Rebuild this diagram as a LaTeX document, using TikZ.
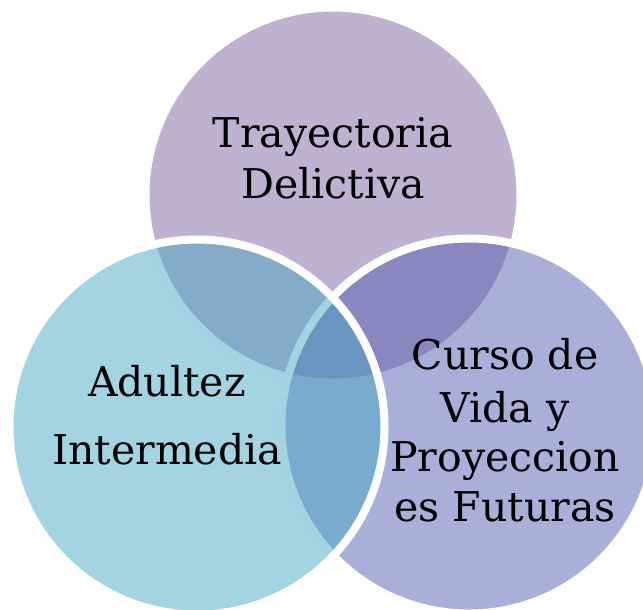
\documentclass[tikz,border=0pt]{standalone}
\usepackage{fontspec}
\setmainfont{DejaVu Serif}
\definecolor{ctop}{RGB}{127,99,161}
\definecolor{cleft}{RGB}{73,167,195}
\definecolor{cright}{RGB}{83,95,177}
\begin{document}
\begin{tikzpicture}[x=1pt,y=-1pt,
  venn/.style={circle, inner sep=0pt, outer sep=0pt, minimum size=375pt,
    fill opacity=0.5, draw=white, draw opacity=1, line width=8pt},
  label/.style={anchor=base, inner sep=0pt, text=black,
    font=\fontsize{41}{49}\selectfont}]
\useasboundingbox (0,0) rectangle (643,610);
% circles: top, right, left (drawing order matters)
\node[venn, fill=ctop]   (top)   at (333,195) {};
\node[venn, fill=cright] (right) at (469,426) {};
\node[venn, fill=cleft]  (left)  at (197,427) {};
% texts
\node[label] (t1) at (333,147) {Trayectoria};
\node[label] (t2) at (333,198.5) {Delictiva};
\node[label] (l1) at (167,396) {Adultez};
\node[label] (l2) at (167,464) {Intermedia};
\node[label] (r1) at (505,369) {Curso de};
\node[label] (r2) at (505,422) {Vida y};
\node[label] (r3) at (505,471) {Proyeccion};
\node[label] (r4) at (505,521) {es Futuras};
\end{tikzpicture}
\end{document}
